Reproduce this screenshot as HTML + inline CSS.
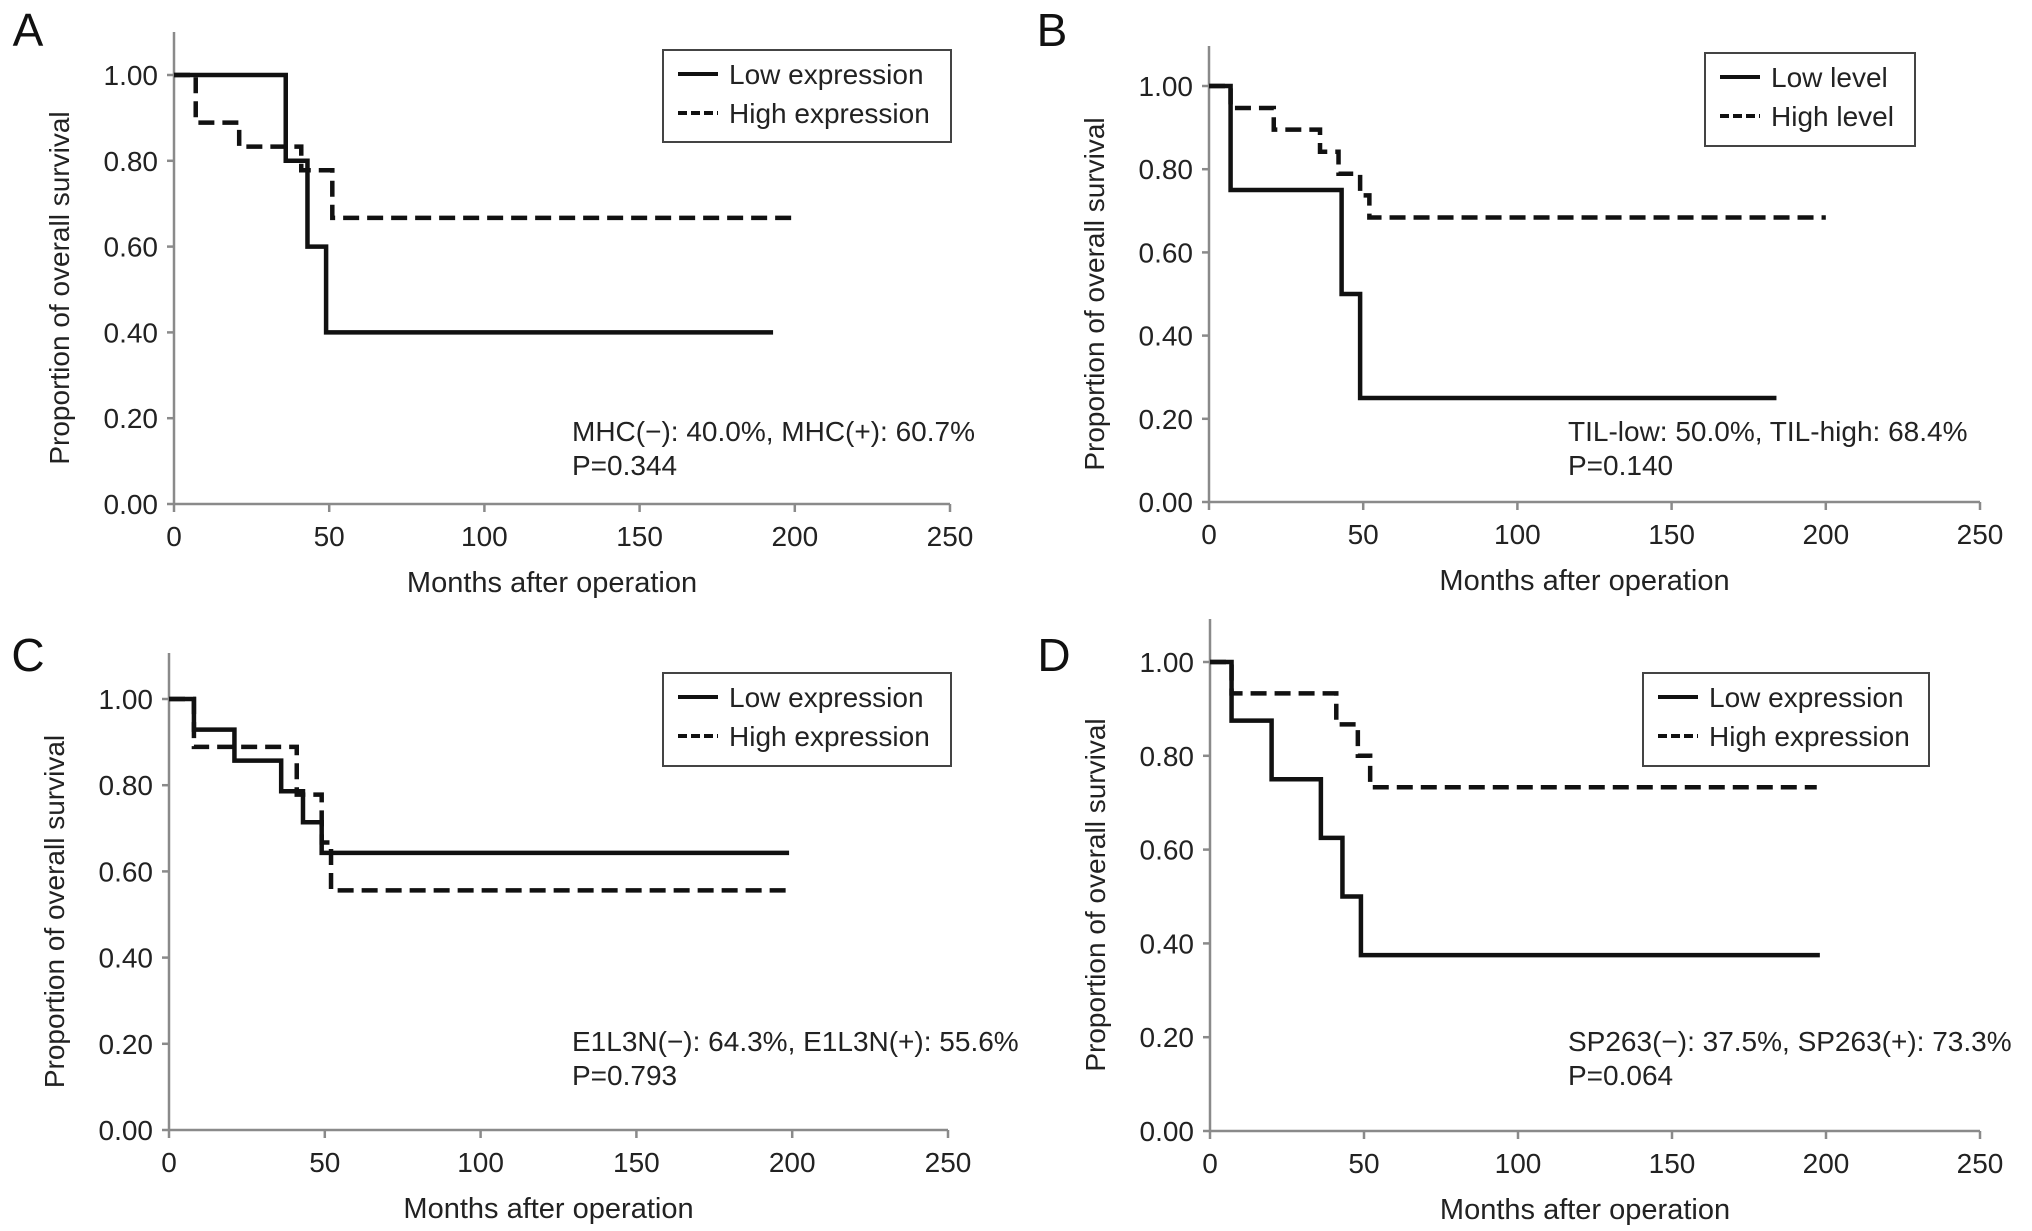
<!DOCTYPE html>
<html><head><meta charset="utf-8"><style>
html,body{margin:0;padding:0;background:#fff;}
svg{display:block;font-family:"Liberation Sans",sans-serif;}
</style></head><body>
<svg id="fig" width="2032" height="1231" viewBox="0 0 2032 1231"></svg>
<script>
// Panel A
const aLowT=[0,36,43,49,193];     const aLowS=[1.0,0.8,0.6,0.4,0.4];
const aHighT=[0,7,21,41,51,200];  const aHighS=[1.0,0.889,0.833,0.778,0.667,0.667];
// Panel B
const bLowT=[0,7,43,49,184];      const bLowS=[1.0,0.75,0.5,0.25,0.25];
const bHighT=[0,7,21,36,42,49,52,200]; const bHighS=[1.0,0.947,0.895,0.842,0.789,0.737,0.684,0.684];
// Panel C
const cLowT=[0,8,21,36,43,49,199]; const cLowS=[1.0,0.929,0.857,0.786,0.714,0.643,0.643];
const cHighT=[0,8,41,49,52,200];   const cHighS=[1.0,0.889,0.778,0.667,0.556,0.556];
// Panel D
const dLowT=[0,7,20,36,43,49,198]; const dLowS=[1.0,0.875,0.75,0.625,0.5,0.375,0.375];
const dHighT=[0,7,41,48,52,197];   const dHighS=[1.0,0.933,0.867,0.8,0.733,0.733];
const yTicks=[0,0.2,0.4,0.6,0.8,1.0];
const yTickLabels=["0.00","0.20","0.40","0.60","0.80","1.00"];
const xTicks=[0,50,100,150,200,250];

const NS="http://www.w3.org/2000/svg";
const svg=document.getElementById('fig');
function el(tag,attrs,parent,text){const e=document.createElementNS(NS,tag);for(const k in attrs)e.setAttribute(k,attrs[k]);if(text!==undefined)e.textContent=text;(parent||svg).appendChild(e);return e;}

const panels=[
 {id:'a',letter:'A',lx:28,ly:46,x0:174,x1:950,y0:504,y1:75,top:32,leg:[663,50,288,92],legText:['Low expression','High expression'],stat:['MHC(−): 40.0%, MHC(+): 60.7%','P=0.344'],sx:572,sy:441,low:[aLowT,aLowS],high:[aHighT,aHighS]},
 {id:'b',letter:'B',lx:1052,ly:46,x0:1209,x1:1980,y0:502,y1:86,top:46,leg:[1705,53,210,93],legText:['Low level','High level'],stat:['TIL-low: 50.0%, TIL-high: 68.4%','P=0.140'],sx:1568,sy:441,low:[bLowT,bLowS],high:[bHighT,bHighS]},
 {id:'c',letter:'C',lx:28,ly:671,x0:169,x1:948,y0:1130,y1:699,top:653,leg:[663,673,288,93],legText:['Low expression','High expression'],stat:['E1L3N(−): 64.3%, E1L3N(+): 55.6%','P=0.793'],sx:572,sy:1051,low:[cLowT,cLowS],high:[cHighT,cHighS]},
 {id:'d',letter:'D',lx:1054,ly:671,x0:1210,x1:1980,y0:1131,y1:662,top:619,leg:[1643,673,286,93],legText:['Low expression','High expression'],stat:['SP263(−): 37.5%, SP263(+): 73.3%','P=0.064'],sx:1568,sy:1051,low:[dLowT,dLowS],high:[dHighT,dHighS]}
];

panels.forEach(p=>{
 const g=el('g',{});
 
 
 const X=t=>p.x0+(p.x1-p.x0)*t/250;
 const Y=s=>p.y0-(p.y0-p.y1)*s;
 const L=el('text',{x:p.lx,y:p.ly,'font-size':46,'text-anchor':'middle',fill:'#111'},g,p.letter);
 
 
 const ya=el('line',{x1:p.x0,y1:p.top,x2:p.x0,y2:p.y0,stroke:'#8a8a8a','stroke-width':2.5},g);
 
 
 const xa=el('line',{x1:p.x0,y1:p.y0,x2:p.x1,y2:p.y0,stroke:'#8a8a8a','stroke-width':2.5},g);
 
 
 yTicks.forEach((v,i)=>{
  el('line',{x1:p.x0-7,y1:Y(v),x2:p.x0,y2:Y(v),stroke:'#8a8a8a','stroke-width':2.5},g);
  const t=el('text',{x:p.x0-16,y:Y(v)+10,'font-size':28,'text-anchor':'end',fill:'#222'},g,yTickLabels[i]);
  
  
 });
 xTicks.forEach(v=>{
  el('line',{x1:X(v),y1:p.y0,x2:X(v),y2:p.y0+8,stroke:'#8a8a8a','stroke-width':2.5},g);
  const t=el('text',{x:X(v),y:p.y0+42,'font-size':28,'text-anchor':'middle',fill:'#222'},g,String(v));
  
  
 });
 const xt=el('text',{x:(p.x0+p.x1)/2-10,y:p.y0+88,'font-size':29,'text-anchor':'middle',fill:'#222'},g,'Months after operation');
 
 
 const ycx=p.x0-105, ycy=(p.top+p.y0)/2+20;
 const yt=el('text',{x:ycx,y:ycy,'font-size':28,'text-anchor':'middle',fill:'#222',transform:`rotate(-90 ${ycx} ${ycy})`},g,'Proportion of overall survival');
 
 
 function step(T,S){let d=`M${X(T[0])},${Y(S[0])}`;for(let i=1;i<T.length;i++){d+=` H${X(T[i])} V${Y(S[i])}`;}return d;}
 const hi=el('path',{d:step(p.high[0],p.high[1]),fill:'none',stroke:'#111','stroke-width':4.5,'stroke-dasharray':'16 8'},g);
 
 
 const lo=el('path',{d:step(p.low[0],p.low[1]),fill:'none',stroke:'#111','stroke-width':4.5},g);
 
 
 const [lx,ly,lw,lh]=p.leg;
 const lg=el('g',{},g);
 
 
 el('rect',{x:lx,y:ly,width:lw,height:lh,fill:'#fff',stroke:'#444','stroke-width':2},lg);
 el('line',{x1:lx+15,y1:ly+24,x2:lx+55,y2:ly+24,stroke:'#111','stroke-width':4},lg);
 el('line',{x1:lx+15,y1:ly+63,x2:lx+55,y2:ly+63,stroke:'#111','stroke-width':4,'stroke-dasharray':'9 4'},lg);
 const e1=el('text',{x:lx+66,y:ly+34,'font-size':28,fill:'#222'},lg,p.legText[0]);
 
 
 const e2=el('text',{x:lx+66,y:ly+73,'font-size':28,fill:'#222'},lg,p.legText[1]);
 
 
 const s1=el('text',{x:p.sx,y:p.sy,'font-size':28,fill:'#222'},g,p.stat[0]);
 
 
 const s2=el('text',{x:p.sx,y:p.sy+34,'font-size':28,fill:'#222'},g,p.stat[1]);
 
 
});
</script>
</body></html>
